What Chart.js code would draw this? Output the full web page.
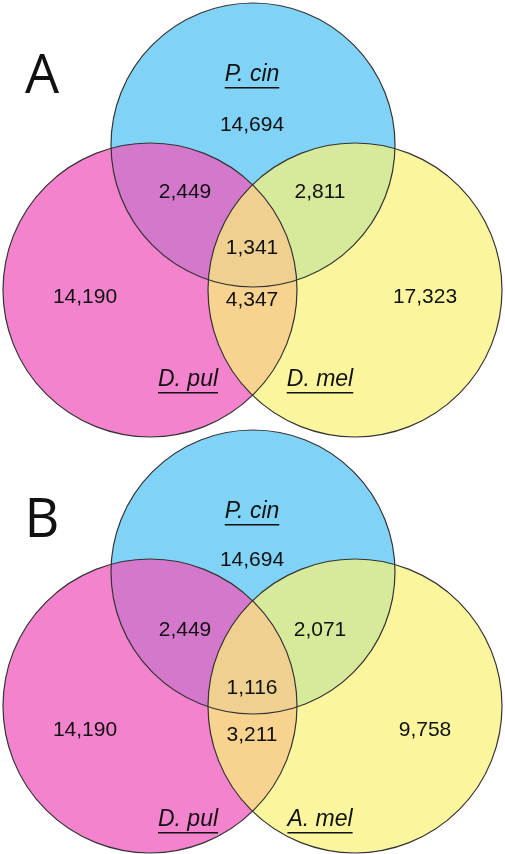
<!DOCTYPE html>
<html lang="en">
<head>
<meta charset="UTF-8">
<title>Venn</title>
<script src="https://cdn.jsdelivr.net/npm/chart.js"></script>
<style>
  body { margin: 0; background: #fff; }
  #wrap { width: 505px; height: 854px; }
</style>
</head>
<body>
<div id="wrap"><canvas id="venn"></canvas></div>
<script>
// circles: centre and radius in page units
const circleCenters = [
    { x: 253, y: 145, r: 142, color: 'rgba(110,205,245,0.88)' },
    { x: 150, y: 290, r: 147, color: 'rgba(240,90,190,0.75)' },
    { x: 355, y: 290, r: 147, color: 'rgba(250,242,120,0.72)' },
    { x: 253, y: 572, r: 142, color: 'rgba(110,205,245,0.88)' },
    { x: 150, y: 706, r: 147, color: 'rgba(240,90,190,0.75)' },
    { x: 355, y: 706, r: 147, color: 'rgba(250,242,120,0.72)' }
];
const countLabels = ['14,694','2,449','2,811','1,341','14,190','4,347','17,323',
                     '14,694','2,449','2,071','1,116','14,190','3,211','9,758'];
const countX = [252,185,320,252,85,252,425, 252,185,320,252,85,252,425];
const countY = [125,192,192,248,297,300,297, 560,630,630,688,730,735,730];
const nameLabels = ['P. cin','D. pul','D. mel','P. cin','D. pul','A. mel'];
const nameX = [252,188,320, 252,188,320];
const nameY = [75,380,380, 512,820,820];
const panelLabels = ['A','B'];
const panelX = [42,42];
const panelY = [78,522];

const vennPlugin = {
    id: 'venn',
    afterDatasetsDraw(chart) {
        const ctx = chart.ctx;
        const xs = chart.scales.x, ys = chart.scales.y;
        const px = v => xs.getPixelForValue(v), py = v => ys.getPixelForValue(v);
        ctx.save();
        circleCenters.forEach(c => {
            const rr = px(c.r) - px(0);
            ctx.beginPath();
            ctx.arc(px(c.x), py(c.y), rr, 0, Math.PI * 2);
            ctx.fillStyle = c.color;
            ctx.fill();
        });
        circleCenters.forEach(c => {
            const rr = px(c.r) - px(0);
            ctx.beginPath();
            ctx.arc(px(c.x), py(c.y), rr, 0, Math.PI * 2);
            ctx.strokeStyle = '#333';
            ctx.lineWidth = 1.2;
            ctx.stroke();
        });
        ctx.fillStyle = '#111';
        ctx.textAlign = 'center';
        ctx.textBaseline = 'middle';
        ctx.font = '21px "Liberation Sans", Arial, sans-serif';
        countLabels.forEach((t, i) => ctx.fillText(t, px(countX[i]), py(countY[i])));
        ctx.font = 'italic 23px "Liberation Sans", Arial, sans-serif';
        nameLabels.forEach((t, i) => {
            const x = px(nameX[i]), y = py(nameY[i]);
            ctx.fillText(t, x, y);
            const w = ctx.measureText(t).width;
            ctx.fillRect(x - w / 2, y + 12, w, 1.5);
        });
        ctx.font = '54px "Open Sans", "DejaVu Sans", sans-serif';
        panelLabels.forEach((t, i) => ctx.fillText(t, px(panelX[i]), py(panelY[i])));
        ctx.restore();
    }
};

new Chart(document.getElementById('venn'), {
    type: 'scatter',
    data: { datasets: [{ data: circleCenters.map(c => ({ x: c.x, y: c.y })), pointRadius: 0 }] },
    options: {
        responsive: true,
        maintainAspectRatio: false,
        animation: false,
        layout: { padding: 0 },
        plugins: { legend: { display: false }, tooltip: { enabled: false } },
        scales: {
            x: { type: 'linear', min: 0, max: 505, display: false },
            y: { type: 'linear', min: 0, max: 854, reverse: true, display: false }
        }
    },
    plugins: [vennPlugin]
});
</script>
</body>
</html>
